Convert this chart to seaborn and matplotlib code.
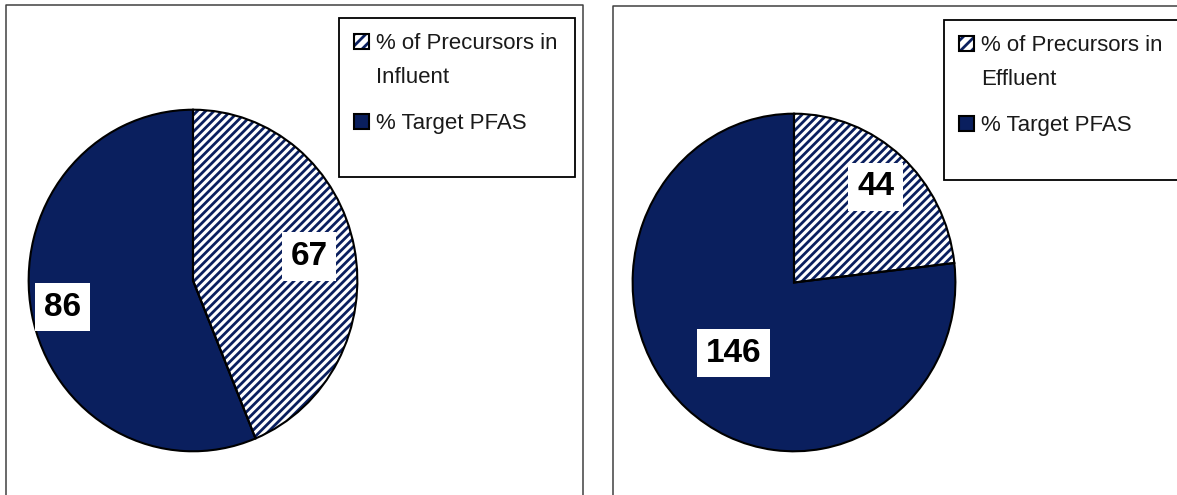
import numpy as np
import matplotlib
matplotlib.use("Agg")
import matplotlib.pyplot as plt
from matplotlib.patches import Rectangle
import seaborn as sns

# data
influent_labels = ["% of Precursors in\nInfluent", "% Target PFAS"]
effluent_labels = ["% of Precursors in\nEffluent", "% Target PFAS"]
influent_values = [67, 86]
effluent_values = [44, 146]

NAVY = "#0a1f5e"
W, H = 1177, 495

sns.set_theme(style="white")
plt.rcParams["font.family"] = ["Liberation Sans", "DejaVu Sans"]
plt.rcParams["hatch.linewidth"] = 2.0

fig = plt.figure(figsize=(W / 100, H / 100), dpi=100)

# background layer in pixel units for the panel frames and legend boxes
bg = fig.add_axes([0, 0, 1, 1])
bg.set_xlim(0, W)
bg.set_ylim(H, 0)
bg.axis("off")


def draw_pie(bbox, values, label_dist):
    x0, y0, x1, y1 = bbox
    ax = fig.add_axes([x0 / W, 1 - y1 / H, (x1 - x0) / W, (y1 - y0) / H])
    wedges, _ = ax.pie(values, startangle=90, counterclock=False,
                       colors=["white", NAVY], frame=True,
                       wedgeprops=dict(linewidth=0))
    # hatch colour follows the edge colour
    wedges[0].set_hatch("////")
    wedges[0].set_edgecolor(NAVY)
    # black outlines on top
    ax.pie(values, startangle=90, counterclock=False, frame=True,
           wedgeprops=dict(fill=False, edgecolor="black", linewidth=1.5))
    for w, v, d in zip(wedges, values, label_dist):
        mid = np.deg2rad((w.theta1 + w.theta2) / 2)
        ax.text(d * np.cos(mid), d * np.sin(mid), str(v), ha="center", va="center",
                fontsize=24, fontweight="bold", color="black",
                bbox=dict(boxstyle="square,pad=0.26", fc="white", ec="none"))
    ax.set_xlim(-1.01, 1.01)
    ax.set_ylim(-1.01, 1.01)
    ax.set_aspect("auto")
    ax.axis("off")


def draw_legend(x, y, w, h, labels):
    bg.add_patch(Rectangle((x, y), w, h, fc="white", ec="black", lw=1.3))
    baselines = [y + 31, y + 111]
    for i, (lab, base) in enumerate(zip(labels, baselines)):
        hy = base - 8 - 7.5
        if i == 0:
            bg.add_patch(Rectangle((x + 15, hy), 15, 15, fc="white", ec=NAVY, hatch="///", lw=0))
        else:
            bg.add_patch(Rectangle((x + 15, hy), 15, 15, fc=NAVY, lw=0))
        bg.add_patch(Rectangle((x + 15, hy), 15, 15, fill=False, ec="black", lw=1.5))
        for k, line in enumerate(lab.split("\n")):
            bg.text(x + 37, base + 34 * k, line, ha="left", va="baseline",
                    fontsize=16, color="#1a1a1a")


# panel frames
bg.plot([6, 6, 583, 583], [H + 5, 5, 5, H + 5], color="#404040", lw=1.1)
bg.plot([613, 613, W + 5], [H + 5, 6, 6], color="#404040", lw=1.1)

draw_legend(339, 18, 236, 159, influent_labels)
draw_legend(944, 20, 250, 160, effluent_labels)

draw_pie((27, 108, 359, 453), influent_values, [0.72, 0.81])
draw_pie((631, 112, 957, 453), effluent_values, [0.76, 0.56])

fig.savefig("out.png", dpi=100)
